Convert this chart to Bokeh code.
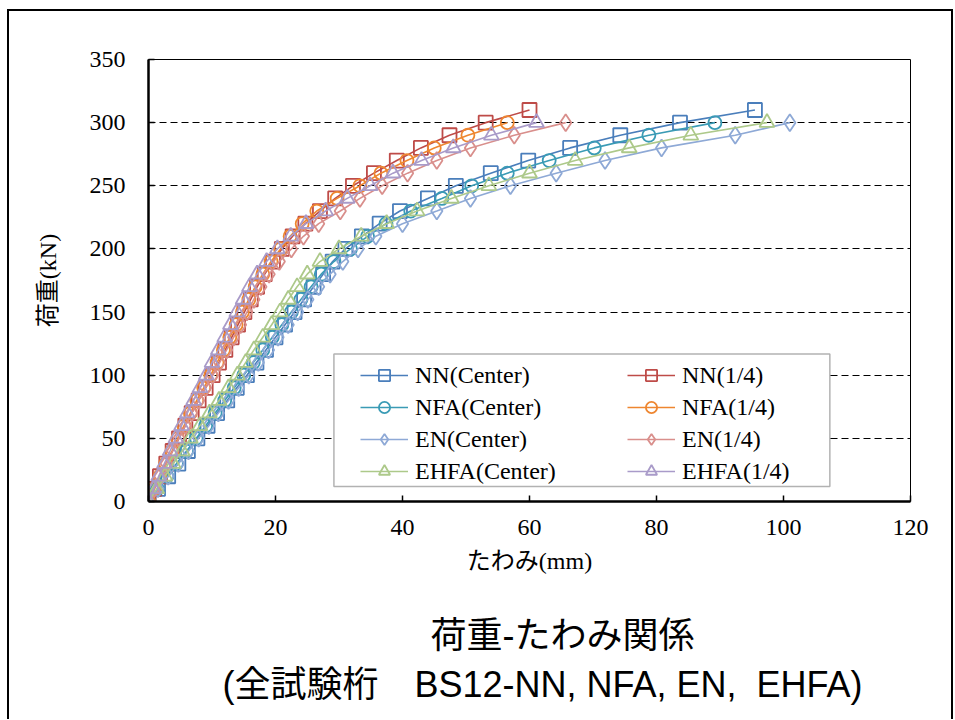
from bokeh.plotting import figure
from bokeh.models import Range1d, Legend, LegendItem, Title, FixedTicker, BoxAnnotation
from bokeh.embed import file_html
from bokeh.resources import INLINE

# ---- data (load in kN, deflection in mm) ----
loads_310 = list(range(0, 320, 10))
loads_300 = list(range(0, 310, 10))

nn_center = [0, 1.5, 3.1, 4.7, 6.2, 7.7, 9.3, 10.8, 12.4, 13.9, 15.5, 17.0, 18.5, 20.0, 21.5, 23.0,
             24.5, 26.0, 27.5, 29.0, 31.0, 33.6, 36.4, 39.6, 44.0, 48.4, 53.9, 59.8, 66.4, 74.3, 83.7, 95.5]
nfa_center = [0, 1.4, 2.9, 4.4, 6.0, 7.5, 9.0, 10.5, 12.0, 13.5, 15.0, 16.5, 18.0, 19.5, 21.0, 22.5,
              24.0, 25.6, 27.2, 29.2, 31.8, 34.5, 37.4, 41.3, 46.2, 50.9, 56.5, 63.1, 70.2, 78.8, 89.2]
en_center = [0, 1.5, 3.1, 4.7, 6.3, 7.9, 9.5, 11.0, 12.6, 14.2, 15.8, 17.3, 18.9, 20.4, 22.0, 23.5,
             25.1, 26.8, 28.6, 30.6, 33.0, 35.8, 40.0, 45.4, 50.7, 57.0, 64.2, 71.9, 80.8, 92.4, 101.0]
ehfa_center = [0, 1.3, 2.6, 3.9, 5.3, 6.6, 8.1, 9.6, 11.1, 12.6, 14.0, 15.3, 16.6, 18.0, 19.4, 20.7,
               22.0, 23.4, 25.0, 27.0, 30.0, 33.5, 37.5, 42.3, 47.7, 53.6, 60.0, 67.2, 75.7, 85.4, 97.4]
nn_quarter = [0, 0.9, 1.8, 2.8, 3.8, 4.8, 5.8, 6.8, 7.9, 9.0, 10.1, 11.1, 12.1, 13.1, 14.1, 15.1,
              16.1, 17.1, 18.3, 19.6, 21.0, 22.7, 24.7, 27.0, 29.4, 32.2, 35.5, 39.1, 42.9, 47.4, 53.1, 60.0]
nfa_quarter = [0, 0.9, 1.8, 2.7, 3.7, 4.6, 5.6, 6.6, 7.6, 8.7, 9.8, 10.8, 11.8, 12.8, 13.8, 14.8,
               15.8, 16.8, 18.0, 19.3, 20.8, 22.3, 24.2, 26.5, 29.7, 33.3, 36.6, 40.7, 45.0, 50.3, 56.5]
en_quarter = [0, 0.9, 1.8, 2.8, 3.8, 4.8, 5.8, 6.8, 7.9, 9.0, 10.1, 11.2, 12.3, 13.4, 14.5, 15.5,
              16.6, 17.7, 19.0, 20.6, 22.5, 24.4, 26.8, 30.2, 33.3, 36.8, 40.8, 45.4, 50.7, 57.6, 65.7]
ehfa_quarter = [0, 0.8, 1.6, 2.5, 3.4, 4.3, 5.2, 6.1, 7.1, 8.1, 9.1, 10.0, 11.0, 12.0, 12.9, 13.9,
                14.9, 15.9, 17.1, 18.6, 20.3, 22.4, 24.8, 27.9, 31.3, 34.9, 38.5, 43.0, 48.0, 54.0, 61.1]

x_ticks = [0, 20, 40, 60, 80, 100, 120]
y_ticks = [0, 50, 100, 150, 200, 250, 300, 350]

series = [
    ("NN(Center)", nn_center, loads_310, "#4A7EBB", "square"),
    ("NN(1/4)", nn_quarter, loads_310, "#BE4B48", "square"),
    ("NFA(Center)", nfa_center, loads_300, "#3A9BB5", "circle"),
    ("NFA(1/4)", nfa_quarter, loads_300, "#EE8630", "circle"),
    ("EN(Center)", en_center, loads_300, "#8EA9D6", "diamond"),
    ("EN(1/4)", en_quarter, loads_300, "#D98F8C", "diamond"),
    ("EHFA(Center)", ehfa_center, loads_300, "#ADC98A", "triangle"),
    ("EHFA(1/4)", ehfa_quarter, loads_300, "#A99BC9", "triangle"),
]

title_1 = "荷重-たわみ関係"
title_2 = "(全試験桁\u3000BS12-NN, NFA, EN,\u00a0 EHFA)"

SERIF = "'Liberation Serif', 'Noto Sans CJK JP'"
SANS = "'Liberation Sans', 'Noto Sans CJK JP'"

p = figure(width=946, height=710, x_range=Range1d(0, 120), y_range=Range1d(0, 350),
           output_backend="svg", toolbar_location=None,
           min_border_left=139, min_border_top=48, min_border_right=45, min_border_bottom=220,
           styles={"border-left": "2px solid black", "border-top": "2px solid black",
                   "border-right": "2px solid black",
                   "margin-left": "7px", "margin-top": "9px"})
p.outline_line_color = "black"
p.outline_line_width = 1

p.xgrid.visible = False
p.ygrid.grid_line_color = "black"
p.ygrid.grid_line_dash = "7 4"
p.ygrid.grid_line_width = 1.2

p.xaxis.ticker = FixedTicker(ticks=x_ticks)
p.yaxis.ticker = FixedTicker(ticks=y_ticks)
for ax in (p.xaxis[0], p.yaxis[0]):
    ax.axis_line_width = 2.5
    ax.axis_line_color = "black"
    ax.major_tick_in = 6
    ax.major_tick_out = 0
    ax.major_tick_line_width = 1.5
    ax.minor_tick_line_color = None
    ax.major_label_text_font = SERIF
    ax.major_label_text_font_size = "24px"
    ax.major_label_text_color = "black"
    ax.axis_label_text_font = SERIF
    ax.axis_label_text_font_size = "24px"
    ax.axis_label_text_font_style = "normal"
    ax.axis_label_text_color = "black"
p.xaxis.axis_label = "たわみ(mm)"
p.yaxis.axis_label = "荷重(kN)"
p.xaxis.major_label_standoff = 18
p.xaxis.axis_label_standoff = 10
p.yaxis.major_label_standoff = 23
p.yaxis.axis_label_standoff = 26

items = []
for name, xs, ys, color, marker in series:
    lr = p.line(xs, ys, line_color=color, line_width=1.6)
    sz = {"square": 14, "circle": 13, "triangle": 15, "diamond": 17}[marker]
    sr = p.scatter(xs, ys, marker=marker, size=sz, line_color=color,
                   fill_color=None, line_width=1.8)
    items.append(LegendItem(label=name, renderers=[lr, sr]))

# legend frame
box = BoxAnnotation(left=29.2, right=107.3, bottom=11.9, top=116.7,
                    fill_color="white", fill_alpha=1.0, line_color="black", line_width=1.5,
                    level="annotation")
p.add_layout(box)

def make_legend(its, loc):
    return Legend(items=its, location=loc, orientation="vertical",
                  border_line_alpha=0, background_fill_alpha=0,
                  padding=5, spacing=4, margin=0,
                  glyph_width=48, glyph_height=28, label_height=28, label_standoff=7,
                  label_text_font=SERIF, label_text_font_size="24px", label_text_color="black")

p.add_layout(make_legend(items[0::2], (207, 11)), "center")
p.add_layout(make_legend(items[1::2], (474, 11)), "center")

spacer = Title(text=" ", text_font_size="1px", standoff=33)
t1 = Title(text=title_1, align="left", offset=282, standoff=0,
           text_font=SANS, text_font_size="36px", text_font_style="normal", text_color="black")
t2 = Title(text=title_2, align="left", offset=74, standoff=12,
           text_font=SANS, text_font_size="36px", text_font_style="normal", text_color="black")
p.add_layout(spacer, "below")
p.add_layout(t1, "below")
p.add_layout(t2, "below")

open("out.html", "w").write(file_html(p, INLINE))
